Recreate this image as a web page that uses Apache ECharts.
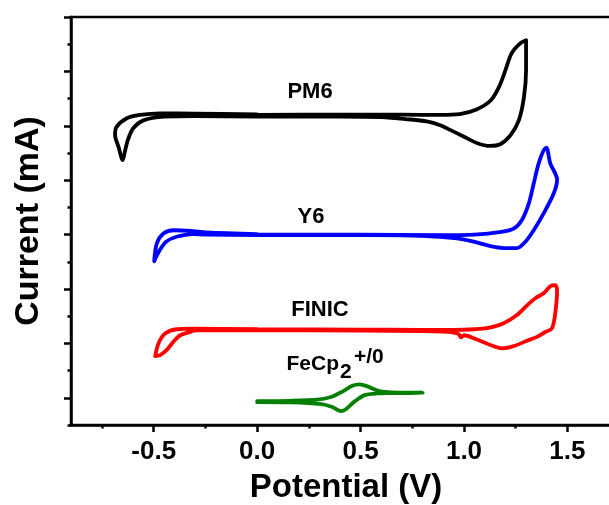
<!DOCTYPE html>
<html>
<head>
<meta charset="utf-8">
<script src="https://cdn.jsdelivr.net/npm/echarts@6/dist/echarts.min.js"></script>
<style>
  html, body { margin: 0; padding: 0; background: #fff; }
  #chart { width: 609px; height: 505px; }
</style>
</head>
<body>
<div id="chart"></div>
<script>
// Potential axis ticks (V)
const potentialLabels = [-0.5, 0.0, 0.5, 1.0, 1.5];
const potentialMinor = [-0.75, -0.25, 0.25, 0.75, 1.25];
// Current axis ticks (offset units, no labels)
const currentMajor = [0, 1, 2, 3, 4, 5, 6, 7];
const currentMinor = [-0.5, 0.5, 1.5, 2.5, 3.5, 4.5, 5.5, 6.5];

// Cyclic voltammograms: [potential (V), current (offset)]
const pm6 = [
  [0.00, 5.20], [0.40, 5.205], [0.70, 5.205], [0.885, 5.20], [0.98, 5.215],
  [1.06, 5.30], [1.13, 5.47], [1.17, 5.72], [1.20, 6.02], [1.23, 6.33],
  [1.27, 6.51], [1.30, 6.575], [1.30, 6.02], [1.29, 5.53], [1.265, 5.10],
  [1.225, 4.83], [1.175, 4.66], [1.125, 4.63], [1.065, 4.68], [1.00, 4.80],
  [0.935, 4.92], [0.885, 5.01], [0.82, 5.08], [0.73, 5.12], [0.60, 5.16],
  [0.40, 5.17], [0.00, 5.17], [-0.30, 5.18], [-0.45, 5.17], [-0.55, 5.10],
  [-0.60, 4.95], [-0.625, 4.74], [-0.64, 4.52], [-0.65, 4.37], [-0.67, 4.61],
  [-0.687, 4.83], [-0.68, 4.98], [-0.63, 5.14], [-0.566, 5.20], [-0.47, 5.23],
  [-0.30, 5.225], [0.00, 5.21]
];
const y6 = [
  [0.00, 3.00], [0.50, 3.00], [0.885, 2.99], [1.05, 3.00], [1.18, 3.05],
  [1.24, 3.11], [1.28, 3.27], [1.313, 3.57], [1.337, 3.94], [1.361, 4.31],
  [1.385, 4.55], [1.398, 4.60], [1.417, 4.31], [1.45, 4.01], [1.434, 3.76],
  [1.385, 3.39], [1.337, 3.08], [1.297, 2.87], [1.256, 2.75], [1.208, 2.75],
  [1.127, 2.79], [1.047, 2.87], [0.966, 2.93], [0.885, 2.96], [0.70, 2.985],
  [0.40, 2.99], [0.00, 2.99], [-0.25, 3.00], [-0.31, 3.01], [-0.39, 2.96],
  [-0.44, 2.87], [-0.47, 2.72], [-0.498, 2.51], [-0.485, 2.84], [-0.453, 3.02],
  [-0.405, 3.08], [-0.324, 3.07], [-0.243, 3.04], [0.00, 3.01]
];
const finic = [
  [0.00, 1.26], [0.50, 1.255], [0.79, 1.25], [0.95, 1.25], [1.05, 1.26],
  [1.111, 1.28], [1.192, 1.37], [1.256, 1.52], [1.305, 1.70], [1.345, 1.83],
  [1.385, 1.92], [1.417, 2.05], [1.441, 2.07], [1.45, 1.98], [1.441, 1.55],
  [1.425, 1.275], [1.393, 1.21], [1.353, 1.12], [1.305, 1.05], [1.24, 0.95],
  [1.184, 0.91], [1.127, 0.97], [1.063, 1.07], [1.00, 1.15], [0.985, 1.11],
  [0.975, 1.17], [0.92, 1.21], [0.79, 1.225], [0.50, 1.235], [0.00, 1.24],
  [-0.30, 1.24], [-0.324, 1.21], [-0.372, 1.15], [-0.405, 1.03], [-0.437, 0.88],
  [-0.469, 0.785], [-0.493, 0.767], [-0.477, 1.00], [-0.445, 1.18], [-0.388, 1.26],
  [-0.308, 1.27], [0.00, 1.26]
];
const ferrocene = [
  [0.00, -0.06], [0.16, -0.055], [0.30, -0.03], [0.36, 0.02], [0.41, 0.11],
  [0.46, 0.22], [0.495, 0.245], [0.53, 0.215], [0.585, 0.13], [0.65, 0.10],
  [0.80, 0.095], [0.65, 0.085], [0.585, 0.08], [0.52, 0.05], [0.47, -0.07],
  [0.425, -0.22], [0.405, -0.245], [0.36, -0.165], [0.31, -0.115], [0.16, -0.085],
  [0.00, -0.08]
];

const FONT = "'Liberation Sans', Arial, sans-serif";
const X_MIN = -0.9, X_MAX = 1.73, Y_MIN = -0.5, Y_MAX = 7;

const tickStyle = { color: '#000', width: 2.5 };

function cvSeries(name, data, color) {
  return {
    name, type: 'line', data,
    xAxisIndex: 0, yAxisIndex: 0,
    showSymbol: false, symbol: 'none',
    smooth: 0.3,
    clip: false,
    lineStyle: { color, width: 3.8, cap: 'round', join: 'round' },
    emphasis: { disabled: true }
  };
}

const chart = echarts.init(document.getElementById('chart'), null, { renderer: 'canvas' });
chart.setOption({
  animation: false,
  backgroundColor: '#fff',
  grid: {
    left: 71, top: 17, width: 544, height: 408,
    show: true, borderColor: '#000', borderWidth: 2.5,
    backgroundColor: 'transparent',
    containLabel: false, outerBoundsMode: 'none'
  },
  xAxis: [
    {
      type: 'value', min: X_MIN, max: X_MAX, position: 'bottom',
      axisLine: { show: true, onZero: false, lineStyle: tickStyle },
      axisTick: { show: true, customValues: potentialLabels, length: 7, lineStyle: tickStyle },
      axisLabel: {
        show: true, customValues: potentialLabels,
        formatter: v => v.toFixed(1),
        fontFamily: FONT, fontWeight: 'bold', fontSize: 26, color: '#000', margin: 14
      },
      splitLine: { show: false }
    },
    {
      type: 'value', min: X_MIN, max: X_MAX, position: 'bottom',
      axisLine: { show: false, onZero: false },
      axisTick: { show: true, customValues: potentialMinor, length: 3.5, lineStyle: tickStyle },
      axisLabel: { show: false },
      splitLine: { show: false }
    }
  ],
  yAxis: [
    {
      type: 'value', min: Y_MIN, max: Y_MAX, position: 'left',
      axisLine: { show: true, onZero: false, lineStyle: tickStyle },
      axisTick: { show: true, customValues: currentMajor, length: 7, lineStyle: tickStyle },
      axisLabel: { show: false },
      splitLine: { show: false }
    },
    {
      type: 'value', min: Y_MIN, max: Y_MAX, position: 'left',
      axisLine: { show: false, onZero: false },
      axisTick: { show: true, customValues: currentMinor, length: 3.5, lineStyle: tickStyle },
      axisLabel: { show: false },
      splitLine: { show: false }
    }
  ],
  series: [
    cvSeries('PM6', pm6, '#000000'),
    cvSeries('Y6', y6, '#0000ff'),
    cvSeries('FINIC', finic, '#ff0000'),
    cvSeries('FeCp2', ferrocene, '#058005')
  ],
  graphic: [
    { type: 'text', x: 346, y: 488, style: { text: 'Potential (V)', font: `bold 33px ${FONT}`, fill: '#000', textAlign: 'center', textVerticalAlign: 'middle' } },
    { type: 'text', x: 29, y: 221, rotation: Math.PI / 2, style: { text: 'Current (mA)', font: `bold 34px ${FONT}`, fill: '#000', textAlign: 'center', textVerticalAlign: 'middle' } },
    { type: 'text', x: 310, y: 92, style: { text: 'PM6', font: `bold 22px ${FONT}`, fill: '#000', textAlign: 'center', textVerticalAlign: 'middle' } },
    { type: 'text', x: 311, y: 217, style: { text: 'Y6', font: `bold 22px ${FONT}`, fill: '#000', textAlign: 'center', textVerticalAlign: 'middle' } },
    { type: 'text', x: 320, y: 310, style: { text: 'FINIC', font: `bold 22px ${FONT}`, fill: '#000', textAlign: 'center', textVerticalAlign: 'middle' } },
    { type: 'text', x: 286.5, y: 364.5, style: { text: 'FeCp', font: `bold 21px ${FONT}`, fill: '#000', textAlign: 'left', textVerticalAlign: 'middle' } },
    { type: 'text', x: 340, y: 372, style: { text: '2', font: `bold 21px ${FONT}`, fill: '#000', textAlign: 'left', textVerticalAlign: 'middle' } },
    { type: 'text', x: 354, y: 357.5, style: { text: '+/0', font: `bold 21px ${FONT}`, fill: '#000', textAlign: 'left', textVerticalAlign: 'middle' } }
  ]
});
</script>
</body>
</html>
